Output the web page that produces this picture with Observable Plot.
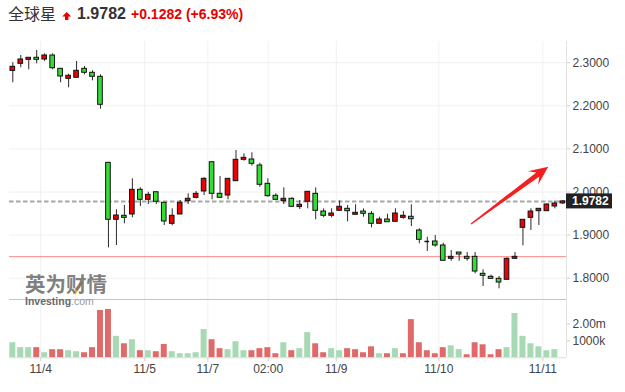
<!DOCTYPE html>
<html>
<head>
<meta charset="utf-8">
<script src="https://cdn.jsdelivr.net/npm/d3@7"></script>
<script src="https://cdn.jsdelivr.net/npm/@observablehq/plot@0.6"></script>
<style>
  html, body { margin: 0; padding: 0; background: #fff; }
  body { width: 625px; height: 392px; overflow: hidden; position: relative; font-family: "Liberation Sans", Arial, sans-serif; }
  #header { position: absolute; left: 0; top: 0; }
  #price { position: absolute; left: 0; top: 41px; }
  #volume { position: absolute; left: 0; top: 298px; }
  #wm { position: absolute; left: 0; top: 0; pointer-events: none; }
  svg { display: block; }
</style>
</head>
<body>
<div id="header"></div>
<div id="price"></div>
<div id="volume"></div>
<div id="wm"></div>
<script>
// ---------- data ----------
const stockName = "全球星";
const lastPrice = 1.9782;
const prevClose = 1.85;

const tickLabels = ["11/4", "11/5", "11/7", "02:00", "11/9", "11/10", "11/11"];
const tickPositions = [3.51, 16.56, 24.47, 32.04, 40.58, 53.45, 66.5]; // in candle-index units

const priceTicks = [1.8, 1.9, 2.0, 2.1, 2.2, 2.3];
const volumeTicks = [1, 2];              // millions
const volumeTickLabels = ["1000k", "2.00m"];

const opens = [2.281, 2.2974, 2.3067, 2.3114, 2.3074, 2.3167, 2.2858, 2.2626, 2.265, 2.2858,
  2.2766, 2.2673, 2.0677, 1.9355, 1.9448, 1.9478, 2.0051, 1.9819, 1.9995, 1.975,
  1.9262, 1.9478, 1.9787, 1.9865, 2.0012, 2.0691, 1.9958, 1.9919, 2.0251, 2.0747,
  2.0754, 2.0615, 2.019, 1.9912, 1.9787, 1.9842, 1.965, 1.9773, 1.9958, 1.9547,
  1.9448, 1.9564, 1.961, 1.9471, 1.9547, 1.9494, 1.9262, 1.9362, 1.9309, 1.9401,
  1.9425, 1.9107, 1.8852, 1.8852, 1.8759, 1.845, 1.8596, 1.8496, 1.8496, 1.8102,
  1.8033, 1.7986, 1.7963, 1.845, 1.9169, 1.9401, 1.9555, 1.9555, 1.9664, 1.9735];
const highs = [2.300, 2.3167, 2.3114, 2.3283, 2.3206, 2.3206, 2.2858, 2.2733, 2.3028, 2.2912,
  2.2812, 2.2719, 2.0677, 1.9587, 1.9687, 2.0306, 2.0097, 1.9995, 1.9995, 1.975,
  1.961, 1.9803, 1.9958, 2.0012, 2.033, 2.0691, 2.036, 2.0306, 2.0963, 2.0886,
  2.091, 2.0668, 2.0306, 1.9958, 2.0097, 1.9865, 1.9803, 2.0005, 2.0097, 1.961,
  1.961, 1.9796, 1.9687, 1.9703, 1.961, 1.9547, 1.9415, 1.9485, 1.961, 1.9547,
  1.9703, 1.9146, 1.8951, 1.899, 1.8812, 1.8643, 1.8596, 1.8596, 1.8596, 1.8195,
  1.8071, 1.804, 1.8473, 1.8596, 1.9355, 1.961, 1.961, 1.9726, 1.9787, 1.9803];
const lows = [2.2534, 2.2882, 2.2835, 2.2974, 2.3028, 2.2835, 2.2534, 2.2418, 2.265, 2.2719,
  2.258, 2.1921, 1.8705, 1.8759, 1.9262, 1.9401, 1.9664, 1.971, 1.971, 1.9223,
  1.9216, 1.9478, 1.971, 1.9842, 1.9919, 1.9819, 1.9865, 1.9819, 2.0251, 2.0715,
  2.0599, 2.0111, 1.9879, 1.9819, 1.971, 1.965, 1.9594, 1.961, 1.9355, 1.9401,
  1.9401, 1.9564, 1.9309, 1.9471, 1.9415, 1.9169, 1.9246, 1.9299, 1.9309, 1.9369,
  1.92, 1.8798, 1.8619, 1.8719, 1.8404, 1.8394, 1.8394, 1.8394, 1.8102, 1.7807,
  1.7977, 1.7754, 1.7963, 1.8443, 1.8752, 1.9107, 1.9223, 1.9555, 1.961, 1.971];
const closes = [2.2905, 2.3074, 2.3114, 2.3067, 2.3167, 2.2872, 2.268, 2.2696, 2.2812, 2.2766,
  2.2673, 2.2023, 1.9355, 1.9455, 1.9401, 2.0051, 1.9819, 1.9935, 1.9773, 1.9316,
  1.9448, 1.975, 1.9842, 1.9958, 2.0306, 1.9958, 1.9865, 2.0306, 2.0747, 2.0793,
  2.0654, 2.0167, 1.9903, 1.9819, 1.9842, 1.9657, 1.9703, 2.0005, 1.9564, 1.9448,
  1.9501, 1.9657, 1.9555, 1.9517, 1.9494, 1.9262, 1.9362, 1.9299, 1.9501, 1.9448,
  1.9369, 1.8891, 1.8852, 1.8759, 1.8404, 1.8496, 1.855, 1.845, 1.8155, 1.8056,
  1.7986, 1.79, 1.845, 1.8496, 1.9355, 1.9547, 1.961, 1.971, 1.9733, 1.9782];
// volume in millions of shares
const volumes = [0.89, 0.6, 0.6, 0.6, 0.3, 0.48, 0.48, 0.42, 0.36, 0.3,
  0.6, 2.8, 2.86, 1.27, 0.83, 1.07, 0.42, 0.42, 0.36, 0.79,
  0.36, 0.24, 0.24, 0.3, 1.67, 1.07, 0.54, 0.48, 0.95, 0.42,
  0.42, 0.54, 0.6, 0.24, 0.89, 0.42, 0.54, 1.49, 0.83, 0.3,
  0.54, 0.42, 0.54, 0.48, 0.3, 0.65, 0.24, 0.24, 0.54, 0.24,
  2.26, 0.89, 0.42, 0.24, 0.6, 0.71, 0.48, 0.18, 0.89, 0.77,
  0.18, 0.48, 0.6, 2.62, 1.27, 0.83, 0.65, 0.42, 0.48, 0];

// annotation arrow (data units: candle index, price)
const arrowAnnotation = [{x1: 57.55, y1: 1.9246, x2: 67.24, y2: 2.0575}];

// ---------- build ----------
const candles = opens.map((o, i) => ({
  i, open: o, high: highs[i], low: lows[i], close: closes[i], volume: volumes[i],
  volUp: i === 0 ? true : closes[i] >= closes[i - 1]
}));
const dojis = candles.filter(d => d.open === d.close);
const labelMap = new Map(tickPositions.map((p, k) => [p, tickLabels[k]]));
const volLabelMap = new Map(volumeTicks.map((v, k) => [v, volumeTickLabels[k]]));

const upColor = "#f00000", downColor = "#36dc36";
const volUpColor = "#a6d9b4", volDownColor = "#e06a6a";
const xDomain = [-0.414, 69.464];
const font = "'Liberation Sans', Arial, sans-serif";

const priceChart = Plot.plot({
  width: 625, height: 258,
  marginLeft: 9, marginRight: 59, marginTop: 0, marginBottom: 0,
  x: {domain: xDomain, axis: null},
  y: {domain: [1.7506, 2.3492]},
  style: {fontFamily: font, fontSize: "12px", color: "#444", background: "transparent", overflow: "visible"},
  marks: [
    Plot.ruleX(tickPositions, {stroke: "#f0f0f0"}),
    Plot.ruleY(priceTicks, {stroke: "#f0f0f0"}),
    Plot.ruleY([prevClose], {stroke: "#ff8585"}),
    Plot.ruleY([lastPrice], {stroke: "#a8a8a8", strokeWidth: 2, strokeDasharray: "4.5,2.5"}),
    Plot.ruleX(candles, {x: "i", y1: "low", y2: "high", stroke: "#2a2a2a"}),
    Plot.rect(candles.filter(d => d.open !== d.close), {
      x1: d => d.i - 0.29, x2: d => d.i + 0.29, y1: "open", y2: "close",
      fill: d => d.close > d.open ? upColor : downColor, stroke: "#111", strokeWidth: 1
    }),
    Plot.ruleY(dojis, {y: "open", x1: d => d.i - 0.29, x2: d => d.i + 0.29, stroke: "#111", strokeWidth: 1.5}),
    Plot.ruleX([xDomain[1]], {stroke: "#e2e2e2"}),
    Plot.axisY(priceTicks, {anchor: "right", label: null, tickSize: 3, tickPadding: 3, stroke: "#cfcfcf",
      tickFormat: d => d.toFixed(4)})
  ]
});
document.getElementById("price").append(priceChart);

// arrow annotation + last price label drawn with the chart's own scales
{
  const sx = priceChart.scale("x"), sy = priceChart.scale("y");
  const svg = d3.select(priceChart);
  for (const a of arrowAnnotation) {
    const tx = sx.apply(a.x1), ty = sy.apply(a.y1);
    const hx = sx.apply(a.x2), hy = sy.apply(a.y2);
    const len = Math.hypot(hx - tx, hy - ty);
    const ux = (hx - tx) / len, uy = (hy - ty) / len;
    const nx = -uy, ny = ux;
    const P = (d, w) => [hx - ux * d + nx * w, hy - uy * d + ny * w];
    const pts = [
      [tx + nx * 0.6, ty + ny * 0.6],
      P(13, 2.6), P(19, 8.5), [hx, hy], P(19, -8.5), P(13, -2.6),
      [tx - nx * 0.6, ty - ny * 0.6]
    ];
    svg.append("path").attr("d", "M" + pts.map(p => p.join(",")).join("L") + "Z")
      .attr("fill", "#f42020");
  }
  const ly = sy.apply(lastPrice);
  const rx = sx.apply(xDomain[1]);
  svg.append("rect").attr("x", rx).attr("y", ly - 7.5).attr("width", 46).attr("height", 15).attr("fill", "#222");
  svg.append("text").attr("x", rx + 6).attr("y", ly).attr("dy", "0.36em").attr("text-anchor", "start")
    .attr("fill", "#fff").attr("font-weight", "bold").attr("font-size", 12).attr("font-family", font)
    .text(lastPrice.toFixed(4));
}

const volumeChart = Plot.plot({
  width: 625, height: 94,
  marginLeft: 9, marginRight: 59, marginTop: 1, marginBottom: 34.7,
  x: {domain: xDomain, label: null},
  y: {domain: [0, 3.45], label: null},
  style: {fontFamily: font, fontSize: "12px", color: "#444", background: "transparent", overflow: "visible"},
  marks: [
    Plot.ruleX(tickPositions, {stroke: "#f0f0f0"}),
    Plot.rect(candles, {x1: d => d.i - 0.375, x2: d => d.i + 0.375, y1: () => 0, y2: "volume",
      fill: d => d.volUp ? volUpColor : volDownColor}),
    Plot.ruleY([0], {stroke: "#dcdcdc"}),
    Plot.ruleY([3.45], {stroke: "#c4c4c4"}),
    Plot.ruleX([xDomain[1]], {stroke: "#e2e2e2"}),
    Plot.axisY(volumeTicks, {anchor: "right", label: null, tickSize: 3, tickPadding: 3, stroke: "#cfcfcf",
      tickFormat: d => volLabelMap.get(d)}),
    Plot.axisX(tickPositions, {anchor: "bottom", label: null, tickSize: 4, tickPadding: 3, stroke: "#cfcfcf",
      tickFormat: d => labelMap.get(d)})
  ]
});
document.getElementById("volume").append(volumeChart);

// header (title line)
{
  const change = lastPrice - prevClose;
  const pct = change / prevClose * 100;
  const h = d3.select("#header").append("svg").attr("width", 625).attr("height", 41);
  h.append("text").attr("x", 8).attr("y", 19.5).attr("font-family", "'Noto Sans CJK SC', sans-serif")
    .attr("font-size", 16).attr("fill", "#333").text(stockName);
  h.append("path").attr("d", "M66.7,12 L71.2,16.6 L68.4,16.6 L68.4,20 L65,20 L65,16.6 L62.2,16.6 Z").attr("fill", "#e60000");
  h.append("text").attr("x", 77).attr("y", 19).attr("font-family", font).attr("font-weight", "bold")
    .attr("font-size", 16).attr("fill", "#333").text(lastPrice.toFixed(4));
  h.append("text").attr("x", 131).attr("y", 19).attr("font-family", font).attr("font-weight", "bold")
    .attr("font-size", 14).attr("fill", "#e60000")
    .text(`+${change.toFixed(4)} (+${pct.toFixed(2)}%)`);
}

// watermark (one text element, two lines)
{
  const w = d3.select("#wm").append("svg").attr("width", 625).attr("height", 392);
  w.append("line").attr("x1", 82).attr("y1", 282).attr("x2", 74).attr("y2", 294)
    .attr("stroke", "#f2b134").attr("stroke-width", 3);
  const t = w.append("text").attr("x", 25).attr("y", 292);
  t.append("tspan").attr("font-family", "'Noto Sans CJK SC', sans-serif").attr("font-weight", "bold")
    .attr("font-size", 20.5).attr("fill", "#6f6f6f").attr("fill-opacity", 0.9).text("英为财情");
  t.append("tspan").attr("x", 25).attr("dy", 13).attr("font-family", font).attr("font-size", 10.5)
    .attr("font-weight", "bold").attr("fill", "#6a6a6a").text("Investing");
  t.append("tspan").attr("font-family", font).attr("font-size", 10.5).attr("fill", "#9a9a9a").text(".com");
}
</script>
</body>
</html>
